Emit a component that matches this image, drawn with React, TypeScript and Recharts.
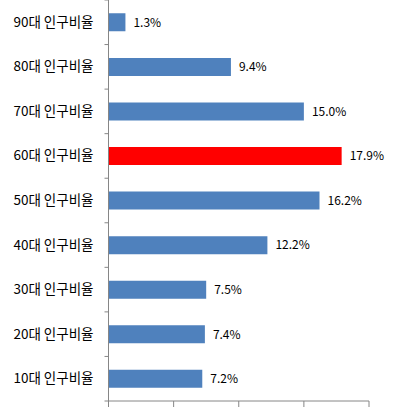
import React from 'react';
import { BarChart, Bar, XAxis, YAxis, Cell, LabelList } from 'recharts';

const categories = ['90대 인구비율', '80대 인구비율', '70대 인구비율', '60대 인구비율', '50대 인구비율', '40대 인구비율', '30대 인구비율', '20대 인구비율', '10대 인구비율'];
const values = [1.3, 9.4, 15.0, 17.9, 16.2, 12.2, 7.5, 7.4, 7.2];
const highlight = '60대 인구비율';
const xTicks = [0, 5, 10, 15, 20];

const data = categories.map((name, i) => ({ name, value: values[i] }));

const W = 408;
const H = 414;
const X_AXIS_H = 13;
const PLOT_H = H - X_AXIS_H;
const BAND = PLOT_H / categories.length;
const AXIS_COLOR = '#868686';
const FONT = '"Noto Sans CJK KR", "Noto Sans", sans-serif';

const YTick = (props: any) => {
  const { x, y, payload, index } = props;
  const half = BAND / 2;
  return (
    <g>
      <line x1={x - 4} x2={x} y1={y - half} y2={y - half} stroke={AXIS_COLOR} strokeWidth={1} />
      {index === categories.length - 1 && (
        <line x1={x - 4} x2={x} y1={y + half} y2={y + half} stroke={AXIS_COLOR} strokeWidth={1} />
      )}
      <text x={x - 15} y={y} dy={4.5} textAnchor="end" fontSize={13.5} fontFamily={FONT} fill="#000">
        {payload.value}
      </text>
    </g>
  );
};

const EmptyTick = () => <g />;

export default function App() {
  return (
    <div style={{ position: 'absolute', left: 0, top: 0, width: W, height: H, background: '#fff' }}>
      <BarChart
        width={W}
        height={H}
        data={data}
        layout="vertical"
        margin={{ top: 0, right: 39, bottom: 0, left: 0 }}
        barCategoryGap="30%"
      >
        <XAxis
          type="number"
          domain={[0, 20]}
          ticks={xTicks}
          tick={<EmptyTick />}
          tickSize={6}
          height={X_AXIS_H}
          axisLine={{ stroke: AXIS_COLOR }}
          tickLine={{ stroke: AXIS_COLOR }}
          allowDataOverflow
        />
        <YAxis
          type="category"
          dataKey="name"
          width={108.5}
          tickSize={0}
          tickMargin={0}
          tickLine={false}
          axisLine={{ stroke: AXIS_COLOR }}
          tick={<YTick />}
          interval={0}
        />
        <Bar dataKey="value" isAnimationActive={false}>
          {data.map((d) => (
            <Cell key={d.name} fill={d.name === highlight ? '#FF0000' : '#4F81BD'} />
          ))}
          <LabelList
            dataKey="value"
            position="right"
            offset={8}
            formatter={(v: any) => `${Number(v).toFixed(1)}%`}
            style={{ fontSize: 12, fontFamily: FONT, fill: '#000' }}
          />
        </Bar>
      </BarChart>
    </div>
  );
}
